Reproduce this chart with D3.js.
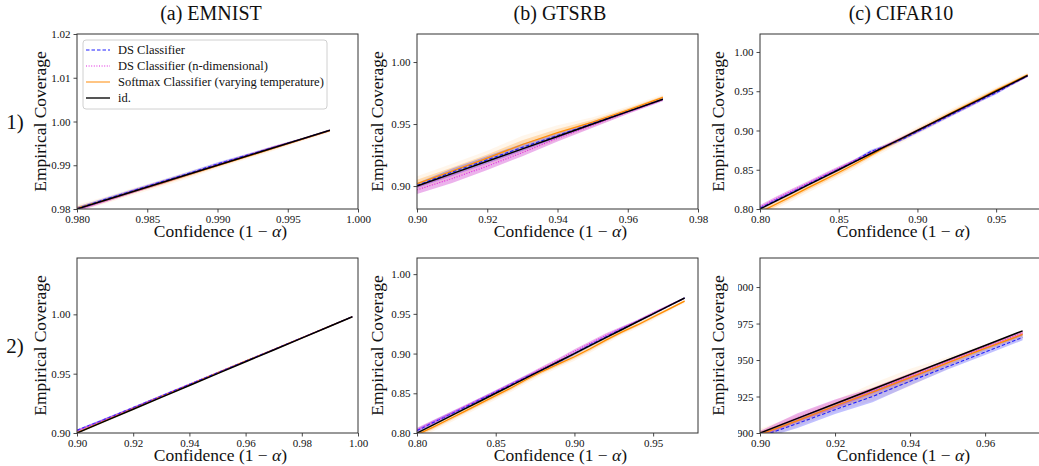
<!DOCTYPE html>
<html>
<head>
<meta charset="utf-8">
<script src="https://cdn.jsdelivr.net/npm/d3@7"></script>
<style>
  body { margin: 0; background: #fff; }
  svg text { font-family: "Liberation Serif", "DejaVu Serif", serif; fill: #111; }
</style>
</head>
<body>
<script>
// ---- data ----
// (a) EMNIST, row 1
var emnist1X = [0.980, 0.982, 0.984, 0.986, 0.988, 0.990, 0.992, 0.994, 0.996, 0.998];
var emnist1Ds = [0.9801, 0.9822, 0.9842, 0.9862, 0.9882, 0.9903, 0.9922, 0.9941, 0.9960, 0.9980];
var emnist1DsSd = [0.0004, 0.0004, 0.0004, 0.0004, 0.0004, 0.0004, 0.0003, 0.0003, 0.0002, 0.0002];
var emnist1Dsn = [0.9798, 0.9819, 0.9840, 0.9860, 0.9880, 0.9901, 0.9921, 0.9941, 0.9960, 0.9980];
var emnist1DsnSd = [0.0004, 0.0004, 0.0004, 0.0004, 0.0003, 0.0003, 0.0003, 0.0003, 0.0002, 0.0002];
var emnist1Sm = [0.9802, 0.9820, 0.9840, 0.9859, 0.9879, 0.9899, 0.9919, 0.9939, 0.9959, 0.9979];
var emnist1SmSd = [0.0004, 0.0004, 0.0004, 0.0004, 0.0004, 0.0003, 0.0003, 0.0003, 0.0002, 0.0002];

// (a) EMNIST, row 2
var emnist2X = [0.90, 0.91, 0.92, 0.93, 0.94, 0.95, 0.96, 0.97, 0.98, 0.99, 0.998];
var emnist2Ds = [0.9022, 0.9117, 0.9214, 0.9312, 0.9410, 0.9508, 0.9606, 0.9704, 0.9802, 0.9901, 0.9980];
var emnist2DsSd = [0.0009, 0.0009, 0.0008, 0.0008, 0.0007, 0.0007, 0.0006, 0.0005, 0.0004, 0.0003, 0.0002];
var emnist2Dsn = [0.9018, 0.9114, 0.9212, 0.9310, 0.9409, 0.9507, 0.9605, 0.9703, 0.9801, 0.9900, 0.9980];
var emnist2DsnSd = [0.0009, 0.0009, 0.0008, 0.0008, 0.0007, 0.0007, 0.0006, 0.0005, 0.0004, 0.0003, 0.0002];
var emnist2Sm = [0.9003, 0.9104, 0.9205, 0.9306, 0.9406, 0.9506, 0.9605, 0.9703, 0.9801, 0.9900, 0.9980];
var emnist2SmSd = [0.0008, 0.0008, 0.0008, 0.0007, 0.0007, 0.0006, 0.0006, 0.0005, 0.0004, 0.0003, 0.0002];

// (b) GTSRB, row 1
var gtsrb1X = [0.90, 0.91, 0.92, 0.93, 0.94, 0.95, 0.96, 0.97];
var gtsrb1Ds = [0.9005, 0.9112, 0.9212, 0.9312, 0.9408, 0.9505, 0.9601, 0.9700];
var gtsrb1DsSd = [0.0020, 0.0030, 0.0030, 0.0030, 0.0020, 0.0015, 0.0010, 0.0010];
var gtsrb1Dsn = [0.8970, 0.9060, 0.9160, 0.9270, 0.9385, 0.9490, 0.9595, 0.9695];
var gtsrb1DsnSd = [0.0035, 0.0035, 0.0030, 0.0030, 0.0025, 0.0020, 0.0015, 0.0012];
var gtsrb1Sm = [0.9020, 0.9120, 0.9225, 0.9335, 0.9430, 0.9515, 0.9612, 0.9715];
var gtsrb1SmSd = [0.0030, 0.0030, 0.0030, 0.0035, 0.0030, 0.0020, 0.0015, 0.0012];

// (b) GTSRB, row 2
var gtsrb2X = [0.80, 0.81, 0.82, 0.83, 0.84, 0.85, 0.86, 0.87, 0.88, 0.89, 0.90, 0.91, 0.92, 0.93, 0.94, 0.95, 0.96, 0.97];
var gtsrb2Ds = [0.8030, 0.8130, 0.8225, 0.8320, 0.8420, 0.8515, 0.8615, 0.8710, 0.8800, 0.8895, 0.9000, 0.9110, 0.9210, 0.9310, 0.9405, 0.9500, 0.9600, 0.9700];
var gtsrb2DsSd = [0.0025, 0.0025, 0.0025, 0.0020, 0.0020, 0.0020, 0.0020, 0.0020, 0.0020, 0.0020, 0.0020, 0.0020, 0.0020, 0.0020, 0.0015, 0.0015, 0.0012, 0.0010];
var gtsrb2Dsn = [0.8040, 0.8135, 0.8230, 0.8330, 0.8425, 0.8520, 0.8620, 0.8715, 0.8820, 0.8920, 0.9030, 0.9130, 0.9230, 0.9320, 0.9410, 0.9510, 0.9605, 0.9700];
var gtsrb2DsnSd = [0.0025, 0.0025, 0.0025, 0.0020, 0.0020, 0.0020, 0.0020, 0.0025, 0.0025, 0.0025, 0.0025, 0.0025, 0.0025, 0.0020, 0.0015, 0.0015, 0.0012, 0.0010];
var gtsrb2Sm = [0.7980, 0.8070, 0.8170, 0.8270, 0.8370, 0.8470, 0.8570, 0.8680, 0.8780, 0.8870, 0.8960, 0.9060, 0.9170, 0.9270, 0.9360, 0.9460, 0.9560, 0.9660];
var gtsrb2SmSd = [0.0025, 0.0025, 0.0025, 0.0025, 0.0025, 0.0025, 0.0025, 0.0025, 0.0025, 0.0025, 0.0025, 0.0025, 0.0025, 0.0020, 0.0020, 0.0020, 0.0015, 0.0012];

// (c) CIFAR10, row 1
var cifar1X = [0.80, 0.81, 0.82, 0.83, 0.84, 0.85, 0.86, 0.87, 0.88, 0.89, 0.90, 0.91, 0.92, 0.93, 0.94, 0.95, 0.96, 0.97];
var cifar1Ds = [0.8010, 0.8110, 0.8210, 0.8310, 0.8410, 0.8505, 0.8610, 0.8730, 0.8800, 0.8885, 0.8985, 0.9085, 0.9185, 0.9285, 0.9385, 0.9480, 0.9590, 0.9695];
var cifar1DsSd = [0.0020, 0.0020, 0.0020, 0.0020, 0.0020, 0.0020, 0.0020, 0.0020, 0.0020, 0.0020, 0.0020, 0.0020, 0.0020, 0.0020, 0.0020, 0.0020, 0.0015, 0.0015];
var cifar1Dsn = [0.8025, 0.8130, 0.8230, 0.8325, 0.8425, 0.8520, 0.8615, 0.8710, 0.8805, 0.8900, 0.8995, 0.9095, 0.9195, 0.9295, 0.9395, 0.9495, 0.9595, 0.9695];
var cifar1DsnSd = [0.0025, 0.0025, 0.0025, 0.0025, 0.0025, 0.0025, 0.0020, 0.0020, 0.0020, 0.0020, 0.0020, 0.0020, 0.0020, 0.0020, 0.0020, 0.0020, 0.0015, 0.0015];
var cifar1Sm = [0.7960, 0.8060, 0.8160, 0.8265, 0.8365, 0.8465, 0.8570, 0.8680, 0.8790, 0.8895, 0.9000, 0.9105, 0.9210, 0.9310, 0.9410, 0.9515, 0.9610, 0.9710];
var cifar1SmSd = [0.0030, 0.0030, 0.0030, 0.0030, 0.0030, 0.0030, 0.0030, 0.0025, 0.0025, 0.0025, 0.0025, 0.0025, 0.0025, 0.0025, 0.0025, 0.0020, 0.0020, 0.0015];

// (c) CIFAR10, row 2
var cifar2X = [0.90, 0.91, 0.92, 0.93, 0.94, 0.95, 0.96, 0.97];
var cifar2Ds = [0.8975, 0.9065, 0.9160, 0.9250, 0.9355, 0.9455, 0.9555, 0.9655];
var cifar2DsSd = [0.0020, 0.0030, 0.0030, 0.0040, 0.0030, 0.0020, 0.0020, 0.0020];
var cifar2Dsn = [0.8995, 0.9105, 0.9200, 0.9290, 0.9390, 0.9490, 0.9590, 0.9685];
var cifar2DsnSd = [0.0020, 0.0030, 0.0030, 0.0020, 0.0020, 0.0015, 0.0015, 0.0015];
var cifar2Sm = [0.8990, 0.9085, 0.9185, 0.9280, 0.9380, 0.9480, 0.9580, 0.9675];
var cifar2SmSd = [0.0020, 0.0020, 0.0020, 0.0030, 0.0030, 0.0020, 0.0015, 0.0015];

// tick values
var ticksXa1 = [0.980, 0.985, 0.990, 0.995, 1.000], ticksYa1 = [0.98, 0.99, 1.00, 1.01, 1.02];
var ticksXa2 = [0.90, 0.92, 0.94, 0.96, 0.98, 1.00], ticksYa2 = [0.90, 0.95, 1.00];
var ticksXb1 = [0.90, 0.92, 0.94, 0.96, 0.98], ticksYb1 = [0.90, 0.95, 1.00];
var ticksXb2 = [0.80, 0.85, 0.90, 0.95], ticksYb2 = [0.80, 0.85, 0.90, 0.95, 1.00];
var ticksXc1 = [0.80, 0.85, 0.90, 0.95], ticksYc1 = [0.80, 0.85, 0.90, 0.95, 1.00];
var ticksXc2 = [0.90, 0.92, 0.94, 0.96], ticksYc2 = [0.900, 0.925, 0.950, 0.975, 1.000];

var titles = ["(a) EMNIST", "(b) GTSRB", "(c) CIFAR10"];
var rowLabels = ["1)", "2)"];
var legendNames = ["DS Classifier", "DS Classifier (n-dimensional)", "Softmax Classifier (varying temperature)", "id."];

// ---- layout ----
var W = 1039, H = 466;
var colLeft = [77, 417, 760], boxW = 281;
var rowTop = [34, 258], boxH = 175;
var titleX = [211, 560, 901];
var ylabX = [40, 377, 718];

var panels = [
  {col: 0, row: 0, x: emnist1X, ds: emnist1Ds, dsSd: emnist1DsSd, dsn: emnist1Dsn, dsnSd: emnist1DsnSd, sm: emnist1Sm, smSd: emnist1SmSd,
   xd: [0.98, 1.0], yd: [0.98, 1.02], tx: ticksXa1, ty: ticksYa1, fx: ".3f", fy: ".2f"},
  {col: 0, row: 1, x: emnist2X, ds: emnist2Ds, dsSd: emnist2DsSd, dsn: emnist2Dsn, dsnSd: emnist2DsnSd, sm: emnist2Sm, smSd: emnist2SmSd,
   xd: [0.90, 1.0], yd: [0.90, 1.0475], tx: ticksXa2, ty: ticksYa2, fx: ".2f", fy: ".2f"},
  {col: 1, row: 0, x: gtsrb1X, ds: gtsrb1Ds, dsSd: gtsrb1DsSd, dsn: gtsrb1Dsn, dsnSd: gtsrb1DsnSd, sm: gtsrb1Sm, smSd: gtsrb1SmSd,
   xd: [0.90, 0.98], yd: [0.8815, 1.0226], tx: ticksXb1, ty: ticksYb1, fx: ".2f", fy: ".2f"},
  {col: 1, row: 1, x: gtsrb2X, ds: gtsrb2Ds, dsSd: gtsrb2DsSd, dsn: gtsrb2Dsn, dsnSd: gtsrb2DsnSd, sm: gtsrb2Sm, smSd: gtsrb2SmSd,
   xd: [0.80, 0.9785], yd: [0.80, 1.0203], tx: ticksXb2, ty: ticksYb2, fx: ".2f", fy: ".2f"},
  {col: 2, row: 0, x: cifar1X, ds: cifar1Ds, dsSd: cifar1DsSd, dsn: cifar1Dsn, dsnSd: cifar1DsnSd, sm: cifar1Sm, smSd: cifar1SmSd,
   xd: [0.80, 0.9785], yd: [0.80, 1.0229], tx: ticksXc1, ty: ticksYc1, fx: ".2f", fy: ".2f"},
  {col: 2, row: 1, x: cifar2X, ds: cifar2Ds, dsSd: cifar2DsSd, dsn: cifar2Dsn, dsnSd: cifar2DsnSd, sm: cifar2Sm, smSd: cifar2SmSd,
   xd: [0.90, 0.9749], yd: [0.90, 1.0199], tx: ticksXc2, ty: ticksYc2, fx: ".2f", fy: ".3f", clipTicks: 738}
];

var blue = "#1f1fff", magenta = "#c000c0", orange = "#ff8c00";

var svg = d3.select("body").append("svg")
  .attr("width", W).attr("height", H)
  .style("display", "block");

var defs = svg.append("defs");

panels.forEach(function(p, i) {
  var x0 = colLeft[p.col], y0 = rowTop[p.row];
  var xs = d3.scaleLinear().domain(p.xd).range([x0, x0 + boxW]);
  var ys = d3.scaleLinear().domain(p.yd).range([y0 + boxH, y0]);

  defs.append("clipPath").attr("id", "clip" + i)
    .append("rect").attr("x", x0).attr("y", y0).attr("width", boxW).attr("height", boxH);

  var g = svg.append("g");
  var plot = g.append("g").attr("clip-path", "url(#clip" + i + ")");

  var idx = d3.range(p.x.length);
  function band(mean, sd, k) {
    return d3.area()
      .x(function(j) { return xs(p.x[j]); })
      .y0(function(j) { return ys(mean[j] - k * sd[j]); })
      .y1(function(j) { return ys(mean[j] + k * sd[j]); })(idx);
  }
  function line(vals) {
    return d3.line()
      .x(function(j) { return xs(p.x[j]); })
      .y(function(j) { return ys(vals[j]); })(idx);
  }

  // shaded bands
  plot.append("path").attr("d", band(p.sm, p.smSd, 2)).attr("fill", orange).attr("fill-opacity", 0.08);
  plot.append("path").attr("d", band(p.sm, p.smSd, 1)).attr("fill", orange).attr("fill-opacity", 0.25);
  plot.append("path").attr("d", band(p.ds, p.dsSd, 1)).attr("fill", blue).attr("fill-opacity", 0.28);
  plot.append("path").attr("d", band(p.dsn, p.dsnSd, 1)).attr("fill", magenta).attr("fill-opacity", 0.3);

  // mean lines
  plot.append("path").attr("d", line(p.sm)).attr("fill", "none").attr("stroke", orange).attr("stroke-width", 1.3);
  plot.append("path").attr("d", line(p.ds)).attr("fill", "none").attr("stroke", blue).attr("stroke-width", 1.1)
    .attr("stroke-dasharray", "3.5,2");
  plot.append("path").attr("d", line(p.dsn)).attr("fill", "none").attr("stroke", "#e020e0").attr("stroke-width", 1.1)
    .attr("stroke-dasharray", "1,1.6");
  plot.append("path").attr("d", line(p.x)).attr("fill", "none").attr("stroke", "#000").attr("stroke-width", 1.5);

  // axes
  var xAxis = d3.axisBottom(xs).tickValues(p.tx).tickFormat(d3.format(p.fx)).tickSize(3.5).tickPadding(2.5);
  var yAxis = d3.axisLeft(ys).tickValues(p.ty).tickFormat(d3.format(p.fy)).tickSize(3.5).tickPadding(3);

  var gx = g.append("g").attr("transform", "translate(0," + (y0 + boxH) + ")").call(xAxis);
  var gy = g.append("g").attr("transform", "translate(" + x0 + ",0)").call(yAxis);
  [gx, gy].forEach(function(a) {
    a.select(".domain").remove();
    a.selectAll(".tick line").attr("stroke", "#333").attr("stroke-width", 0.9);
    a.selectAll(".tick text").attr("font-size", "11px").attr("fill", "#111")
      .style("font-family", "'Liberation Serif', serif");
  });
  if (p.clipTicks) {
    // clip rect lives in gy's local coordinates (translated by x0)
    defs.append("clipPath").attr("id", "tclip" + i)
      .append("rect").attr("x", p.clipTicks - x0).attr("y", y0 - 10).attr("width", 60).attr("height", boxH + 20);
    gy.attr("clip-path", "url(#tclip" + i + ")");
  }

  // frame
  g.append("rect").attr("x", x0).attr("y", y0).attr("width", boxW).attr("height", boxH)
    .attr("fill", "none").attr("stroke", "#333").attr("stroke-width", 1);

  // axis labels
  var xl = g.append("text").attr("x", x0 + boxW / 2 + 3).attr("y", y0 + boxH + 28)
    .attr("text-anchor", "middle").attr("font-size", "17.5px");
  xl.append("tspan").text("Confidence (1 \u2212 ");
  xl.append("tspan").attr("font-style", "italic").text("\u03b1");
  xl.append("tspan").text(")");

  g.append("text")
    .attr("transform", "translate(" + ylabX[p.col] + "," + (y0 + boxH / 2) + ") rotate(-90)")
    .attr("text-anchor", "middle").attr("dominant-baseline", "central")
    .attr("font-size", "17.5px").text("Empirical Coverage");
});

// column titles
svg.selectAll(".coltitle").data(titles).enter().append("text")
  .attr("class", "coltitle")
  .attr("x", function(d, i) { return titleX[i]; })
  .attr("y", 20)
  .attr("text-anchor", "middle").attr("font-size", "20px")
  .text(function(d) { return d; });

// row labels
svg.selectAll(".rowlab").data(rowLabels).enter().append("text")
  .attr("class", "rowlab")
  .attr("x", 15)
  .attr("y", function(d, i) { return rowTop[i] + boxH / 2 + 7; })
  .attr("text-anchor", "middle").attr("font-size", "21px")
  .text(function(d) { return d; });

// legend in first panel
var lg = svg.append("g");
lg.append("rect").attr("x", 83).attr("y", 40).attr("width", 244).attr("height", 69)
  .attr("rx", 3).attr("fill", "#fff").attr("fill-opacity", 0.85)
  .attr("stroke", "#d0d0d0").attr("stroke-width", 1);
var legendStyles = [
  {stroke: blue, width: 1.1, dash: "3.5,2"},
  {stroke: "#e020e0", width: 1.1, dash: "1,1.6"},
  {stroke: "#ffa640", width: 1.3, dash: null},
  {stroke: "#555", width: 2, dash: null}
];
var legendRows = lg.selectAll(".lrow").data(legendNames).enter().append("g")
  .attr("transform", function(d, i) { return "translate(0," + (50 + i * 16) + ")"; });
legendRows.append("line").attr("x1", 86).attr("x2", 110).attr("y1", 0).attr("y2", 0)
  .attr("stroke", function(d, i) { return legendStyles[i].stroke; })
  .attr("stroke-width", function(d, i) { return legendStyles[i].width; })
  .attr("stroke-dasharray", function(d, i) { return legendStyles[i].dash; });
legendRows.append("text").attr("x", 118).attr("y", 4).attr("font-size", "12.5px")
  .text(function(d) { return d; });
</script>
</body>
</html>
